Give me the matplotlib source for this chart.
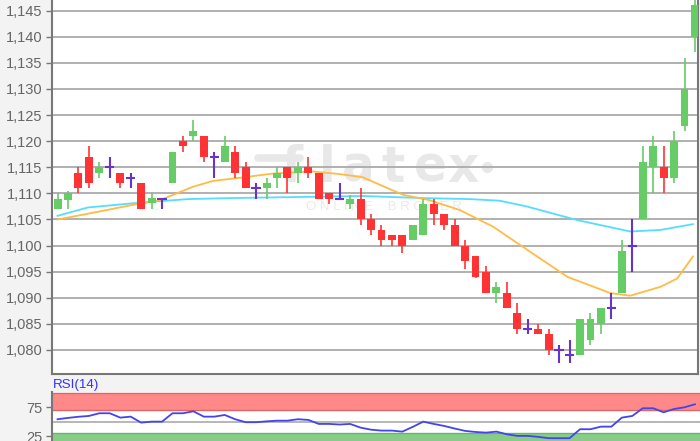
import matplotlib
matplotlib.use('Agg')
import matplotlib.pyplot as plt

plt.rcParams['font.family'] = ['Liberation Sans', 'DejaVu Sans']

# candles (one per session)
opens = [1107, 1108.7, 1114, 1117, 1114, 1115, 1114, 1113, 1112, 1108.2,
         1109, 1112, 1120, 1121, 1121, 1117, 1116, 1118, 1115, 1111,
         1111, 1113, 1115, 1114, 1115, 1114, 1110, 1109, 1108, 1109,
         1105, 1103, 1102, 1102, 1101, 1102, 1108, 1106, 1104, 1100,
         1098, 1095, 1091, 1091, 1087, 1084, 1084, 1083, 1080, 1079,
         1079, 1082, 1085, 1088, 1091, 1100, 1105, 1115, 1115, 1113,
         1123, 1140]
highs = [1110, 1110.5, 1115, 1119, 1116, 1117, 1114, 1114, 1112, 1110,
         1109.2, 1118, 1121, 1124, 1121, 1118, 1121, 1119, 1116, 1112,
         1113, 1115, 1115, 1116, 1117, 1114, 1110, 1112, 1109.7, 1111,
         1106, 1104, 1102, 1102, 1104, 1109, 1109, 1106, 1105, 1101,
         1098, 1096, 1093, 1093, 1089, 1086, 1085, 1084, 1081, 1082,
         1086, 1087, 1088, 1091, 1101, 1105, 1119, 1121, 1119, 1122,
         1136, 1148]
lows = [1107, 1107, 1110, 1111, 1113, 1113, 1111, 1111, 1107, 1107,
        1107, 1112, 1118, 1120, 1116, 1113, 1116, 1113, 1111, 1109,
        1109, 1111, 1110, 1112, 1113, 1109, 1108, 1109, 1107, 1104,
        1102, 1100, 1100, 1098.6, 1101, 1102, 1104, 1103, 1100, 1095.6,
        1093.7, 1091, 1089, 1088, 1083, 1083, 1083, 1079, 1077.6, 1077.6,
        1079, 1081, 1083, 1086, 1091, 1095, 1105, 1110, 1110, 1112,
        1122, 1137]
closes = [1109, 1110, 1111, 1112, 1115, 1115, 1112, 1113, 1107, 1109.2,
          1109, 1118, 1119, 1122, 1117, 1117, 1119, 1114, 1111, 1111,
          1112, 1114, 1113, 1115, 1114, 1109, 1109, 1109, 1109, 1105,
          1103, 1101, 1101, 1100, 1104, 1108, 1106, 1104, 1100, 1097,
          1094, 1091, 1092, 1088, 1084, 1084, 1083, 1080, 1080, 1079,
          1086, 1086, 1088, 1088, 1099, 1100, 1116, 1119, 1113, 1120,
          1130, 1146]

# moving averages (session index, price)
ma_fast_idx = [0, 2.9, 7.2, 9.8, 11.4, 13, 14.9, 17.5, 20.6, 24.4, 27, 29.2,
               30.9, 33.1, 35.6, 38.5, 41.7, 44.5, 48.8, 52.9, 54.8, 57.7,
               59.3, 60.8]
ma_fast = [1105.0, 1106.1, 1107.8, 1108.7, 1110.0, 1111.3, 1112.4, 1113.0,
           1113.8, 1114.2, 1113.7, 1113.1, 1111.6, 1109.7, 1108.7, 1106.8,
           1103.6, 1099.8, 1094.0, 1090.9, 1090.4, 1092.1, 1093.7, 1097.9]
ma_slow_idx = [0, 2.9, 7.2, 12.4, 16.5, 26.1, 29.2, 35, 39.5, 42.3, 44.9,
               49.7, 54.8, 57.7, 60.8]
ma_slow = [1105.7, 1107.3, 1108.1, 1108.9, 1109.1, 1109.4, 1109.5, 1109.1,
           1108.9, 1108.6, 1107.5, 1104.9, 1102.7, 1103.0, 1104.1]

rsi = [54.2, 56.5, 58.5, 59.9, 64.6, 64.6, 57, 58.7, 48.3, 50,
       50, 64.6, 64.6, 68, 58.7, 58.7, 61.6, 54.2, 49, 49,
       50.5, 51.7, 51.7, 54.2, 53, 46, 46, 45, 46, 39.6,
       36, 34.4, 34.4, 32.6, 41, 50, 46, 42.5, 38, 33.9,
       32, 30.9, 32.6, 28, 25.2, 25.2, 23.5, 21.2, 21.2, 21.2,
       36.8, 36.8, 41.3, 41.3, 57, 59.9, 73.3, 73.3, 66.3, 72,
       75, 80.2]

price_ticks = [1080, 1085, 1090, 1095, 1100, 1105, 1110, 1115, 1120, 1125,
               1130, 1135, 1140, 1145]
rsi_ticks = [25, 75]

GREEN = '#66cc66'
RED = '#ff3333'
DOJI = '#6633cc'
GRID = '#aaaaaa'
SPINE = '#777777'
TXT = '#666666'
WM = '#e8e8e8'

fig = plt.figure(figsize=(7, 4.41), dpi=100, facecolor='#f3f3f3')
ax = fig.add_axes([52 / 700, 1 - 374.3 / 441, 646 / 700, 374.3 / 441])
ax.set_facecolor('white')

for y in price_ticks:
    ax.axhline(y, color=GRID, lw=1.3, zorder=1)

# watermark, letter by letter (pixel x centres)
wm_letters = ['f', 'l', 'a', 't', 'e', 'x']
wm_x = [292, 327, 358, 393, 430, 463]
for ch, px in zip(wm_letters, wm_x):
    ax.text((px - 52) / 646, (374.3 - 182) / 374.3, ch, transform=ax.transAxes,
            ha='center', va='baseline', fontsize=35, fontweight='bold',
            color=WM, zorder=0.5, family='DejaVu Sans')
ax.plot([(258 - 52) / 646, (300 - 52) / 646], [(374.3 - 158) / 374.3] * 2,
        transform=ax.transAxes, color=WM, lw=5.5, solid_capstyle='round', zorder=0.5)
ax.plot([(487 - 52) / 646], [(374.3 - 167) / 374.3], 'o', ms=7, color=WM,
        transform=ax.transAxes, zorder=0.5)
ax.text(0.514, (374.3 - 207) / 374.3, 'O N L I N E    B R O K E R',
        transform=ax.transAxes, ha='center', va='center', fontsize=9.5,
        color='#eaeaea', zorder=0.5)

ax.plot(ma_slow_idx, ma_slow, color='#55ddff', lw=1.3, zorder=2)
ax.plot(ma_fast_idx, ma_fast, color='#ffbb44', lw=1.3, zorder=2)

for i in range(len(opens)):
    o, h, l, c = opens[i], highs[i], lows[i], closes[i]
    if o == c:
        ax.vlines(i, l, h, color=DOJI, lw=1.5, zorder=3)
        ax.hlines(o, i - 0.45, i + 0.45, color=DOJI, lw=1.5, zorder=3)
        continue
    col = GREEN if c > o else RED
    ax.vlines(i, l, h, color=col, lw=1.2, zorder=3)
    ax.bar(i, abs(c - o), bottom=min(o, c), width=0.76, color=col, zorder=4)

ax.set_xlim(-0.53, 61.29)
ax.set_ylim(1075.34, 1147.05)
ax.set_xticks([])
ax.set_yticks(price_ticks)
ax.set_yticklabels(['{:,}'.format(v) for v in price_ticks])
ax.tick_params(axis='y', length=4, width=1, color=SPINE, labelcolor=TXT,
               labelsize=10.5, pad=3)
for s in ['left', 'bottom', 'right']:
    ax.spines[s].set_color(SPINE)
    ax.spines[s].set_linewidth(1.5)
ax.spines['top'].set_visible(False)

# RSI panel
rx = fig.add_axes([52 / 700, 0, 648 / 700, 49 / 441])
rx.set_facecolor('white')
rx.axhspan(70, 100, color='#ff8888', zorder=1, lw=0)
rx.axhline(70, color='#e06666', lw=1, zorder=1.5)
rx.axhline(100, color='#e06666', lw=1, zorder=1.5)
rx.axhspan(0, 30, color='#88cc88', zorder=1, lw=0)
rx.axhline(30, color='#66b866', lw=1, zorder=1.5)
rx.axhline(50, color=GRID, lw=1.2, zorder=1.5)
rx.plot(range(len(rsi)), rsi, color='#4444ee', lw=1.3, zorder=3)
rx.set_xlim(-0.53, 61.48)
rx.set_ylim(16.3, 101.6)
rx.set_xticks([])
rx.set_yticks(rsi_ticks)
rx.tick_params(axis='y', length=4, width=1, color=SPINE, labelcolor=TXT,
               labelsize=10.5, pad=3)
for s in ['top', 'right', 'bottom']:
    rx.spines[s].set_visible(False)
rx.spines['left'].set_color(SPINE)
rx.spines['left'].set_linewidth(1.5)

fig.text(53 / 700, 1 - 385 / 441, 'RSI(14)', color='#3333ff', fontsize=9.6,
         ha='left', va='center')

fig.savefig('out.png', dpi=100, facecolor=fig.get_facecolor())
